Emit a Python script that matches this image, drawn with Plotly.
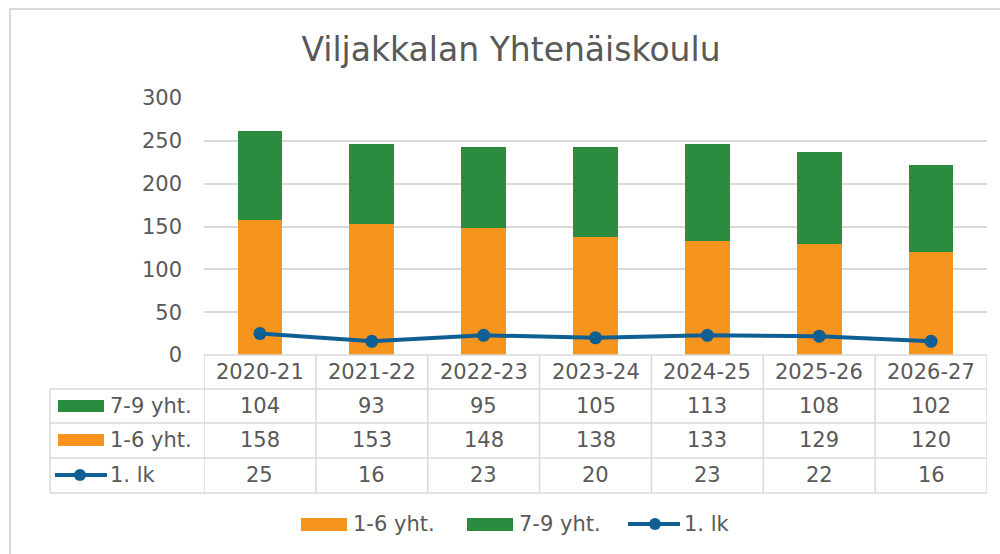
import plotly.graph_objects as go

categories = ["2020-21", "2021-22", "2022-23", "2023-24", "2024-25", "2025-26", "2026-27"]
grade_1_6 = [158, 153, 148, 138, 133, 129, 120]
grade_7_9 = [104, 93, 95, 105, 113, 108, 102]
grade_1 = [25, 16, 23, 20, 23, 22, 16]
y_ticks = [0, 50, 100, 150, 200, 250, 300]

title_text = "Viljakkalan Yhtenäiskoulu"
name_1_6 = "1-6 yht."
name_7_9 = "7-9 yht."
name_1 = "1. lk"

ORANGE = "#F7941D"
GREEN = "#2B8C3F"
BLUE = "#105F93"
TEXT = "#595959"
GRID = "#D9D9D9"
FONT = "DejaVu Sans"

W, H = 1000, 554


def fx(px):
    return px / W


def fy(py):
    return 1 - py / H


fig = go.Figure()
fig.add_trace(go.Bar(x=categories, y=grade_1_6, name=name_1_6, marker=dict(color=ORANGE, line=dict(width=0))))
fig.add_trace(go.Bar(x=categories, y=grade_7_9, name=name_7_9, marker=dict(color=GREEN, line=dict(width=0))))
fig.add_trace(go.Scatter(x=categories, y=grade_1, name=name_1, mode="lines+markers",
                         line=dict(color=BLUE, width=4), marker=dict(color=BLUE, size=13)))

shapes = []
annotations = []

# outer chart border
shapes.append(dict(type="rect", xref="paper", yref="paper", x0=fx(10), x1=fx(1010), y0=fy(9), y1=fy(570),
                   line=dict(color=GRID, width=2), fillcolor="rgba(0,0,0,0)", layer="below"))

# table geometry (pixels)
x_left = 50
x_label_col = 204
x_right = 987
y_header_top = 355
row_lines = [389, 423, 458, 493]
header_y = 372
row_text_y = [406, 440, 475]

lc = dict(color=GRID, width=1.5)
shapes.append(dict(type="line", xref="paper", yref="paper", x0=fx(x_label_col), x1=fx(x_right),
                   y0=fy(y_header_top), y1=fy(y_header_top), line=lc))
for yl in row_lines:
    shapes.append(dict(type="line", xref="paper", yref="paper", x0=fx(x_left), x1=fx(x_right),
                       y0=fy(yl), y1=fy(yl), line=lc))
for i in range(len(categories) + 1):
    shapes.append(dict(type="line", xref="x", yref="paper", x0=i - 0.5, x1=i - 0.5,
                       y0=fy(y_header_top), y1=fy(row_lines[-1]), line=lc))
shapes.append(dict(type="line", xref="paper", yref="paper", x0=fx(x_left), x1=fx(x_left),
                   y0=fy(row_lines[0]), y1=fy(row_lines[-1]), line=lc))

tfont = dict(family=FONT, size=21, color=TEXT)

for c in categories:
    annotations.append(dict(x=c, y=fy(header_y), xref="x", yref="paper", text=c, showarrow=False,
                            font=tfont, xanchor="center", yanchor="middle"))
for row_vals, ty in zip([grade_7_9, grade_1_6, grade_1], row_text_y):
    for c, v in zip(categories, row_vals):
        annotations.append(dict(x=c, y=fy(ty), xref="x", yref="paper", text=str(v), showarrow=False,
                                font=tfont, xanchor="center", yanchor="middle"))

# row keys in table
shapes.append(dict(type="rect", xref="paper", yref="paper", x0=fx(58), x1=fx(104), y0=fy(400), y1=fy(412),
                   fillcolor=GREEN, line=dict(width=0)))
shapes.append(dict(type="rect", xref="paper", yref="paper", x0=fx(58), x1=fx(104), y0=fy(434), y1=fy(446),
                   fillcolor=ORANGE, line=dict(width=0)))
shapes.append(dict(type="line", xref="paper", yref="paper", x0=fx(55), x1=fx(107), y0=fy(475), y1=fy(475),
                   line=dict(color=BLUE, width=4)))
shapes.append(dict(type="circle", xref="paper", yref="paper", x0=fx(74), x1=fx(86), y0=fy(481), y1=fy(469),
                   fillcolor=BLUE, line=dict(width=0)))
for name, ty in zip([name_7_9, name_1_6, name_1], row_text_y):
    annotations.append(dict(x=fx(108), y=fy(ty), xref="paper", yref="paper", text=name, showarrow=False,
                            font=tfont, xanchor="left", yanchor="middle"))

# bottom legend
ly = 524
shapes.append(dict(type="rect", xref="paper", yref="paper", x0=fx(301), x1=fx(347), y0=fy(518), y1=fy(531),
                   fillcolor=ORANGE, line=dict(width=0)))
annotations.append(dict(x=fx(351), y=fy(ly), xref="paper", yref="paper", text=name_1_6, showarrow=False,
                        font=tfont, xanchor="left", yanchor="middle"))
shapes.append(dict(type="rect", xref="paper", yref="paper", x0=fx(467), x1=fx(513), y0=fy(518), y1=fy(531),
                   fillcolor=GREEN, line=dict(width=0)))
annotations.append(dict(x=fx(517), y=fy(ly), xref="paper", yref="paper", text=name_7_9, showarrow=False,
                        font=tfont, xanchor="left", yanchor="middle"))
shapes.append(dict(type="line", xref="paper", yref="paper", x0=fx(628), x1=fx(680), y0=fy(ly), y1=fy(ly),
                   line=dict(color=BLUE, width=4)))
shapes.append(dict(type="circle", xref="paper", yref="paper", x0=fx(649), x1=fx(661), y0=fy(ly + 6), y1=fy(ly - 6),
                   fillcolor=BLUE, line=dict(width=0)))
annotations.append(dict(x=fx(682), y=fy(ly), xref="paper", yref="paper", text=name_1, showarrow=False,
                        font=tfont, xanchor="left", yanchor="middle"))

fig.update_layout(
    width=W, height=H,
    margin=dict(l=0, r=0, t=0, b=0, pad=0, autoexpand=False),
    paper_bgcolor="white", plot_bgcolor="white",
    barmode="stack", bargap=0.6,
    showlegend=False,
    title=dict(text=title_text, x=0.511, y=fy(49), xanchor="center", yanchor="middle",
               font=dict(family=FONT, size=33, color=TEXT)),
    xaxis=dict(type="category", domain=[fx(204), fx(987)], range=[-0.5, 6.5], automargin=False,
               showticklabels=False, showgrid=False, zeroline=False, showline=False, ticks=""),
    yaxis=dict(domain=[fy(355), fy(98)], range=[0, 300], tickvals=y_ticks, automargin=False,
               showgrid=True, gridcolor=GRID, gridwidth=1.5, zeroline=False, showline=False, ticks="",
               tickfont=dict(family=FONT, size=21, color=TEXT), ticklabelstandoff=21),
    shapes=shapes, annotations=annotations,
)

fig.write_html("out.html", config={"displayModeBar": False},
               post_script="document.body.style.margin='0';document.body.style.overflow='hidden';")
